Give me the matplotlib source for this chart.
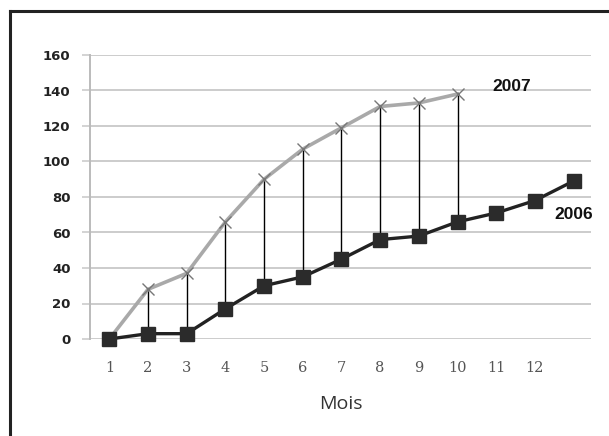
import matplotlib
matplotlib.use('Agg')
import matplotlib.pyplot as plt
from matplotlib.lines import Line2D

# donnees
mois = [1, 2, 3, 4, 5, 6, 7, 8, 9, 10, 11, 12, 13]
labels = ['1', '2', '3', '4', '5', '6', '7', '8', '9', '10', '11', '12', '']
v2006 = [0, 3, 3, 17, 30, 35, 45, 56, 58, 66, 71, 78, 89]
mois07 = [1, 2, 3, 4, 5, 6, 7, 8, 9, 10]
v2007 = [0, 28, 37, 66, 90, 107, 119, 131, 133, 138]

fig = plt.figure(figsize=(6.09, 4.36), dpi=100)
ax = fig.add_axes([90/609, 97/436, 501/609, 284/436])

# grille
for y in range(0, 161, 20):
    ax.axhline(y, color='#cccccc', lw=1.4, zorder=0)

# lignes verticales entre les deux series
for x, a, b in zip(mois07[1:], v2007[1:], v2006[1:len(v2007)]):
    ax.plot([x, x], [b, a], color='black', lw=1.0, zorder=1)

ax.plot(mois07, v2007, color='#a9a9a9', lw=2.6, marker='x', ms=9,
        mew=1.0, mec='#777777', zorder=2, clip_on=False)
ax.plot(mois, v2006, color='#222222', lw=2.4, marker='s', ms=10.5,
        mfc='#2b2b2b', mec='#2b2b2b', zorder=3, clip_on=False)

ax.set_xlim(0.5, 13.45)
ax.set_ylim(0, 160)
ax.set_yticks(range(0, 161, 20))
ax.set_xticks(mois)
ax.set_xticklabels(labels, family='DejaVu Serif', fontsize=10.5, color='#555555')
for t in ax.get_yticklabels():
    t.set_fontweight('bold')
    t.set_fontsize(9.5)
    t.set_color('#222222')

for s in ['top', 'right', 'bottom']:
    ax.spines[s].set_visible(False)
ax.spines['left'].set_color('#bbbbbb')
ax.spines['left'].set_linewidth(1.4)
ax.tick_params(axis='y', length=6, width=1.2, color='#cccccc', pad=8)
ax.tick_params(axis='x', length=0, pad=16)

ax.set_xlabel('Mois', family='Open Sans', fontsize=14, color='#333333', labelpad=14)

ax.text(11.39, 142.5, '2007', family='Liberation Sans', fontweight='bold',
        fontsize=12.5, ha='center', va='center', color='#111111')
ax.text(13.0, 70, '2006', family='Liberation Sans', fontweight='bold',
        fontsize=12.5, ha='center', va='center', color='#111111')

# cadre
fig.add_artist(Line2D([10/609, 1], [1 - 11/436, 1 - 11/436], color='#222222', lw=2.2))
fig.add_artist(Line2D([10/609, 10/609], [0, 1 - 11/436], color='#222222', lw=2.2))

fig.savefig('out.png', dpi=100)
